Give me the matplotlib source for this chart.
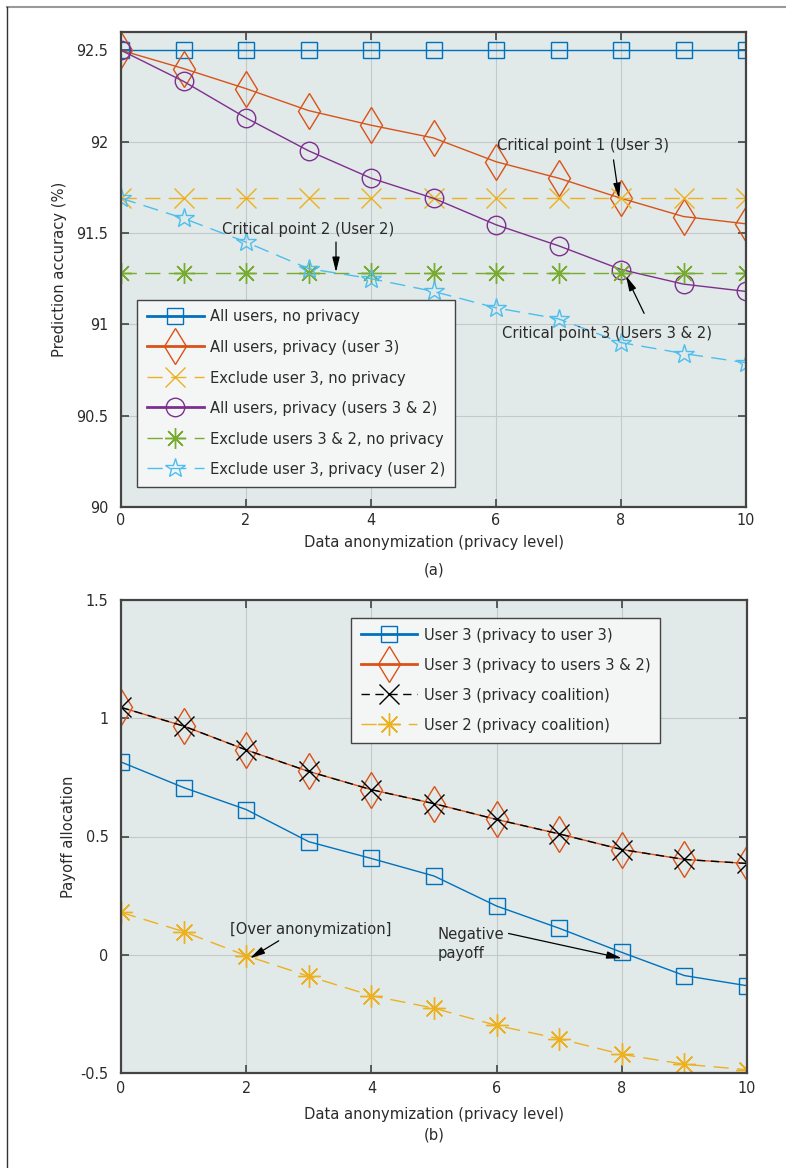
import matplotlib
matplotlib.use("Agg")
import matplotlib.pyplot as plt
from matplotlib.lines import Line2D

# ---------------- data ----------------
privacy_level = [0, 1, 2, 3, 4, 5, 6, 7, 8, 9, 10]

# (a) prediction accuracy (%)
acc_all_no_priv = [92.5] * 11
acc_all_priv_u3 = [92.50, 92.40, 92.29, 92.17, 92.09, 92.02, 91.89, 91.80, 91.69, 91.59, 91.55]
acc_excl3_no_priv = [91.69] * 11
acc_all_priv_u32 = [92.50, 92.33, 92.13, 91.95, 91.80, 91.69, 91.545, 91.43, 91.30, 91.22, 91.18]
acc_excl32_no_priv = [91.28] * 11
acc_excl3_priv_u2 = [91.69, 91.58, 91.45, 91.305, 91.25, 91.18, 91.09, 91.03, 90.90, 90.84, 90.79]

labels_a = ["All users, no privacy", "All users, privacy (user 3)", "Exclude user 3, no privacy",
            "All users, privacy (users 3 & 2)", "Exclude users 3 & 2, no privacy",
            "Exclude user 3, privacy (user 2)"]

# (b) payoff allocation
pay_u3_priv_u3 = [0.815, 0.707, 0.614, 0.478, 0.407, 0.333, 0.206, 0.112, 0.010, -0.088, -0.131]
pay_u3_priv_u32 = [1.046, 0.967, 0.866, 0.775, 0.698, 0.639, 0.572, 0.511, 0.445, 0.403, 0.386]
pay_u3_coal = [1.046, 0.967, 0.866, 0.775, 0.698, 0.639, 0.572, 0.511, 0.445, 0.403, 0.386]
pay_u2_coal = [0.179, 0.098, -0.004, -0.091, -0.173, -0.226, -0.299, -0.355, -0.421, -0.463, -0.486]

labels_b = ["User 3 (privacy to user 3)", "User 3 (privacy to users 3 & 2)",
            "User 3 (privacy coalition)", "User 2 (privacy coalition)"]

xticks = [0, 2, 4, 6, 8, 10]
yticks_a = [90, 90.5, 91, 91.5, 92, 92.5]
yticklabels_a = ["90", "90.5", "91", "91.5", "92", "92.5"]
yticks_b = [-0.5, 0, 0.5, 1, 1.5]
yticklabels_b = ["-0.5", "0", "0.5", "1", "1.5"]

# ---------------- style ----------------
plt.rcParams["font.family"] = ["DejaVu Sans"]
plt.rcParams["font.stretch"] = "condensed"
TXT = "#2b2b2b"
FS = 11.8
FS_TICK = 11.5
BLUE = "#0072BD"; ORANGE = "#D95319"; YELLOW = "#EDB120"
PURPLE = "#7E2F8E"; GREEN = "#77AC30"; CYAN = "#4DBEEE"
AXBG = "#e1e9e9"; FRAME = "#444444"
ASTER = (8, 2, 0)
DASH = (11, 6)

fig = plt.figure(figsize=(7.86, 11.68), dpi=100)

# page border lines
fig.add_artist(Line2D([7/786, 1.0], [1 - 7/1168, 1 - 7/1168], color="#999999", lw=1.5))
fig.add_artist(Line2D([7/786, 7/786], [0, 1 - 7/1168], color="#333333", lw=1.0))


def style_axes(ax, xpad):
    ax.set_facecolor(AXBG)
    for s in ax.spines.values():
        s.set_color(FRAME)
        s.set_linewidth(1.6)
    ax.tick_params(direction="in", length=6, width=1.2, color=FRAME, top=True, right=True,
                   labelsize=FS_TICK, labelcolor=TXT)
    ax.tick_params(axis="y", pad=9)
    ax.tick_params(axis="x", pad=xpad)
    ax.grid(True, color="#c4c8c8", lw=0.8)
    ax.set_axisbelow(True)


def style_legend(leg, solid_idx):
    fr = leg.get_frame()
    fr.set_facecolor("#f4f6f6")
    fr.set_edgecolor(FRAME)
    fr.set_linewidth(1.0)
    fr.set_alpha(1)
    for t in leg.get_texts():
        t.set_color(TXT)
    for i, h in enumerate(leg.legend_handles):
        if i in solid_idx:
            h.set_linewidth(2.0)


arrow = dict(arrowstyle="-|>,head_length=0.9,head_width=0.22", color="black", lw=0.9,
             shrinkA=0, shrinkB=0)
mk = dict(markerfacecolor="none", markeredgewidth=1.0)

# ---------------- (a) ----------------
ax1 = fig.add_axes([121/786, 1 - 507/1168, 625/786, 475/1168])
style_axes(ax1, 4)
ax1.plot(privacy_level, acc_all_no_priv, "-", color=BLUE, lw=1.0, marker="s", ms=11,
         markeredgecolor=BLUE, label=labels_a[0], **mk)
ax1.plot(privacy_level, acc_all_priv_u3, "-", color=ORANGE, lw=1.0, marker="d", ms=18,
         markeredgecolor=ORANGE, label=labels_a[1], **mk)
ax1.plot(privacy_level, acc_excl3_no_priv, color=YELLOW, lw=1.0, dashes=DASH, marker="x", ms=14,
         markeredgecolor=YELLOW, label=labels_a[2], **mk)
ax1.plot(privacy_level, acc_all_priv_u32, "-", color=PURPLE, lw=1.0, marker="o", ms=13.3,
         markeredgecolor=PURPLE, label=labels_a[3], **mk)
ax1.plot(privacy_level, acc_excl32_no_priv, color=GREEN, lw=1.0, dashes=DASH, marker=ASTER, ms=15,
         markeredgecolor=GREEN, label=labels_a[4], **mk)
ax1.plot(privacy_level, acc_excl3_priv_u2, color=CYAN, lw=1.0, dashes=DASH, marker="*", ms=15,
         markeredgecolor=CYAN, label=labels_a[5], **mk)

ax1.set_xlim(0, 10)
ax1.set_ylim(90, 92.6)
ax1.set_xticks(xticks)
ax1.set_yticks(yticks_a)
ax1.set_yticklabels(yticklabels_a)
ax1.set_xlabel("Data anonymization (privacy level)", fontsize=FS, color=TXT, labelpad=5.5)
ax1.set_ylabel("Prediction accuracy (%)", fontsize=FS, color=TXT)
ax1.yaxis.set_label_coords(-0.0865, 0.5)

leg1 = ax1.legend(loc="lower left", bbox_to_anchor=(0.026, 0.042), fontsize=FS, frameon=True,
                  fancybox=False, handlelength=3.45, borderpad=0.6, labelspacing=0.95,
                  handletextpad=0.4, borderaxespad=0)
style_legend(leg1, {0, 1, 3})

ax1.text(6.02, 91.976, "Critical point 1 (User 3)", fontsize=FS, color=TXT, va="center", ha="left")
ax1.annotate("", xy=(7.97, 91.69), xytext=(7.88, 91.90), arrowprops=arrow)
ax1.text(1.62, 91.52, "Critical point 2 (User 2)", fontsize=FS, color=TXT, va="center", ha="left")
ax1.annotate("", xy=(3.44, 91.285), xytext=(3.44, 91.45), arrowprops=arrow)
ax1.text(6.10, 90.95, "Critical point 3 (Users 3 & 2)", fontsize=FS, color=TXT, va="center", ha="left")
ax1.annotate("", xy=(8.08, 91.265), xytext=(8.37, 91.06), arrowprops=arrow)

fig.text(434/786, 1 - 570/1168, "(a)", fontsize=FS, color=TXT, ha="center", va="center")

# ---------------- (b) ----------------
ax2 = fig.add_axes([121/786, 1 - 1073/1168, 626/786, 473/1168])
style_axes(ax2, 6)
ax2.plot(privacy_level, pay_u3_priv_u3, "-", color=BLUE, lw=1.0, marker="s", ms=11,
         markeredgecolor=BLUE, label=labels_b[0], **mk)
ax2.plot(privacy_level, pay_u3_priv_u32, "-", color=ORANGE, lw=1.0, marker="d", ms=18,
         markeredgecolor=ORANGE, label=labels_b[1], **mk)
ax2.plot(privacy_level, pay_u3_coal, color="black", lw=1.0, dashes=(6, 4), marker="x", ms=14,
         markeredgecolor="black", label=labels_b[2], **mk)
ax2.plot(privacy_level, pay_u2_coal, color=YELLOW, lw=1.0, dashes=DASH, marker=ASTER, ms=16,
         markeredgecolor=YELLOW, label=labels_b[3], **mk)

ax2.set_xlim(0, 10)
ax2.set_ylim(-0.5, 1.5)
ax2.set_xticks(xticks)
ax2.set_yticks(yticks_b)
ax2.set_yticklabels(yticklabels_b)
ax2.set_xlabel("Data anonymization (privacy level)", fontsize=FS, color=TXT, labelpad=7.5)
ax2.set_ylabel("Payoff allocation", fontsize=FS, color=TXT)
ax2.yaxis.set_label_coords(-0.072, 0.5)

leg2 = ax2.legend(loc="upper left", bbox_to_anchor=(0.367, 0.962), fontsize=FS, frameon=True,
                  fancybox=False, handlelength=3.45, borderpad=0.6, labelspacing=0.92,
                  handletextpad=0.4, borderaxespad=0)
style_legend(leg2, {0, 1})

ax2.text(1.74, 0.108, "[Over anonymization]", fontsize=FS, color=TXT, va="center", ha="left")
ax2.annotate("", xy=(2.06, -0.015), xytext=(2.52, 0.059), arrowprops=arrow)
ax2.text(5.05, 0.046, "Negative\npayoff", fontsize=FS, color=TXT, va="center", ha="left",
         linespacing=1.35)
ax2.annotate("", xy=(8.0, -0.015), xytext=(6.19, 0.09), arrowprops=arrow)

fig.text(434/786, 1 - 1135/1168, "(b)", fontsize=FS, color=TXT, ha="center", va="center")

fig.savefig("out.png", dpi=100)
